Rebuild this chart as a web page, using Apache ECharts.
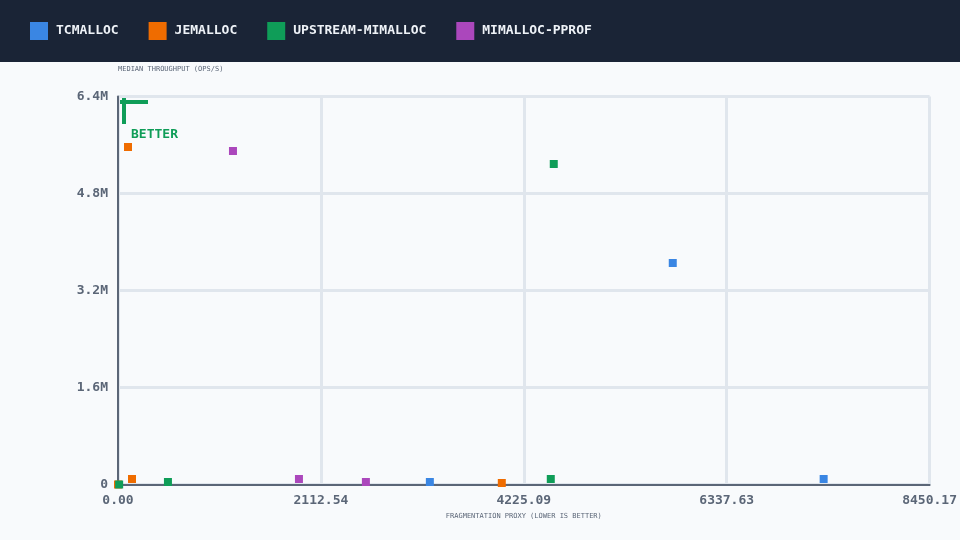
<!DOCTYPE html>
<html lang="en">
<head>
    <meta charset="UTF-8">
    <title>allocator scatter</title>
    <script type="text/javascript" src="https://cdn.jsdelivr.net/npm/echarts@6/dist/echarts.min.js"></script>
    <style>
        html, body { margin: 0; padding: 0; background: #f8fafc; }
        #main { width: 960px; height: 540px; }
    </style>
</head>
<body>
<div id="main"></div>
<script type="text/javascript">
// series names and colours
var seriesNames = ['TCMALLOC', 'JEMALLOC', 'UPSTREAM-MIMALLOC', 'MIMALLOC-PPROF'];
var seriesColors = ['#3a86e3', '#ef6c00', '#0f9d58', '#ab47bc'];

// [fragmentation proxy, median throughput ops/s]
var tcmallocPts = [[5776, 3654000], [7347, 91000], [3247, 41000]];
var jemallocPts = [[104, 5567000], [146, 91000], [3996, 25000], [0, 0]];
var upstreamPts = [[4537, 5287000], [4506, 91000], [520, 41000], [12, 0]];
var pprofPts = [[1197, 5501000], [1884, 91000], [2581, 41000]];

var xMax = 8450.17;
var yTicks = [0, 1600000, 3200000, 4800000, 6400000];

var axisCol = '#5b6677';
var gridCol = '#e0e6ed';
var mono = 'DejaVu Sans Mono';

var allPts = [tcmallocPts, jemallocPts, upstreamPts, pprofPts];

var myChart = echarts.init(document.getElementById('main'));
var option = {
    backgroundColor: '#f8fafc',
    animation: false,
    color: seriesColors,
    grid: { left: 118, right: 30, top: 96.5, bottom: 55.5 },
    graphic: [
        { type: 'rect', z: 0, silent: true, shape: { x: 0, y: 0, width: 960, height: 62 },
          style: { fill: '#1a2436' } },
        // "better" corner marker
        { type: 'rect', z: 100, shape: { x: 122, y: 98, width: 4, height: 26 }, style: { fill: '#0f9d58' } },
        { type: 'rect', z: 100, shape: { x: 120, y: 100, width: 28, height: 4 }, style: { fill: '#0f9d58' } },
        { type: 'text', z: 100, left: 131, top: 128,
          style: { text: 'BETTER', fill: '#0f9d58', font: 'bold 13px "DejaVu Sans Mono"' } }
    ],
    legend: {
        left: 30,
        top: 22,
        padding: 0,
        itemWidth: 18,
        itemHeight: 18,
        itemGap: 30,
        icon: 'rect',
        data: seriesNames,
        textStyle: { color: '#eef2f7', fontFamily: mono, fontSize: 13, fontWeight: 'bold', padding: [0, 0, 14, 3] }
    },
    xAxis: {
        type: 'value',
        min: 0,
        max: xMax,
        interval: xMax / 4,
        name: 'FRAGMENTATION PROXY (LOWER IS BETTER)',
        nameLocation: 'middle',
        nameGap: 25,
        nameTextStyle: { color: axisCol, fontFamily: mono, fontSize: 7, verticalAlign: 'top' },
        axisLine: { show: true, lineStyle: { color: axisCol, width: 2 } },
        axisTick: { show: false },
        axisLabel: {
            color: axisCol, fontFamily: mono, fontSize: 13, fontWeight: 'bold', margin: 10,
            showMinLabel: true, showMaxLabel: true,
            formatter: function (v) { return v.toFixed(2); }
        },
        splitLine: { show: true, lineStyle: { color: gridCol, width: 3 } }
    },
    yAxis: {
        type: 'value',
        min: 0,
        max: yTicks[yTicks.length - 1],
        interval: yTicks[1],
        name: 'MEDIAN THROUGHPUT (OPS/S)',
        nameLocation: 'end',
        nameGap: 24,
        nameTextStyle: { color: axisCol, fontFamily: mono, fontSize: 7, align: 'left' },
        axisLine: { show: true, lineStyle: { color: axisCol, width: 2 } },
        axisTick: { show: false },
        axisLabel: {
            color: axisCol, fontFamily: mono, fontSize: 13, fontWeight: 'bold', margin: 10,
            formatter: function (v) { return v === 0 ? '0' : (v / 1e6).toFixed(1) + 'M'; }
        },
        splitLine: { show: true, lineStyle: { color: gridCol, width: 3 } }
    },
    series: seriesNames.map(function (n, i) {
        return {
            name: n,
            type: 'scatter',
            symbol: 'rect',
            symbolSize: 8,
            z: 10,
            itemStyle: { color: seriesColors[i], opacity: 1 },
            data: allPts[i]
        };
    })
};
myChart.setOption(option);
</script>
</body>
</html>
